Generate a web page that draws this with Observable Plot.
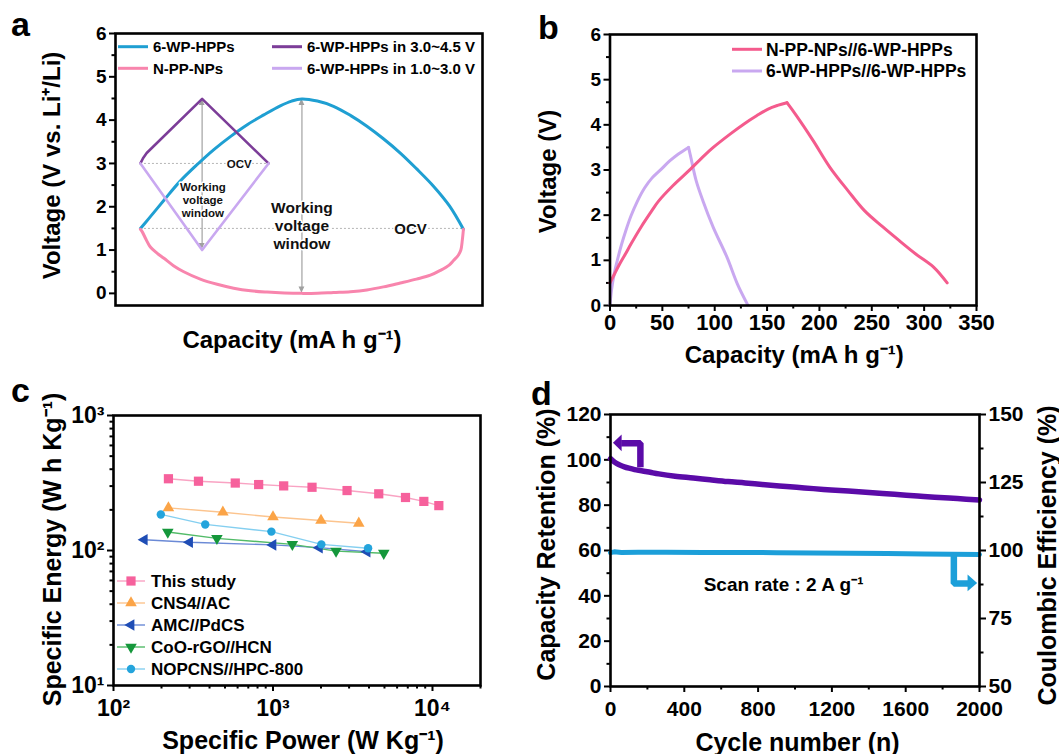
<!DOCTYPE html>
<html>
<head>
<meta charset="utf-8">
<script src="https://cdn.jsdelivr.net/npm/d3@7"></script>
<script src="https://cdn.jsdelivr.net/npm/@observablehq/plot@0.6"></script>
<style>
  html, body { margin: 0; padding: 0; background: #fff; }
  #root { position: relative; width: 1059px; height: 754px; overflow: hidden; background: #fff; }
  #root svg { position: absolute; }
</style>
</head>
<body>
<div id="root"></div>
<script>
const FONT = "Arial, 'Liberation Sans', Helvetica, sans-serif";

// ---------- Panel a data (arbitrary capacity units) ----------
const aCapBlue = [6.8, 9, 13.2, 17.5, 22.2, 26.8, 31.3, 36, 40.4, 44.9, 48, 50.8, 55, 59.4, 64, 68.5, 73, 77.6, 82, 86.7, 91, 94.8];
const aVBlue   = [1.50, 1.72, 2.15, 2.58, 2.97, 3.32, 3.62, 3.90, 4.12, 4.33, 4.44, 4.49, 4.44, 4.32, 4.11, 3.86, 3.57, 3.24, 2.88, 2.47, 2.02, 1.48];
const aCapPink = [6.8, 7.3, 8.3, 9.5, 11.3, 13.2, 15.8, 18.6, 23.1, 27.7, 32.2, 36.8, 41.3, 46, 50.8, 55, 59.4, 64, 68.5, 73, 77.6, 82, 85.8, 88.5, 91, 92.1, 93.4, 94.1, 94.5, 94.8];
const aVPink   = [1.48, 1.42, 1.25, 1.07, 0.93, 0.81, 0.64, 0.50, 0.33, 0.21, 0.12, 0.06, 0.03, 0.01, 0.0, 0.0, 0.02, 0.04, 0.08, 0.15, 0.24, 0.33, 0.42, 0.53, 0.66, 0.76, 0.88, 1.0, 1.23, 1.48];
const aCapHigh = [6.8, 7.5, 8.5, 23.6, 41.7];
const aVHigh   = [3.0, 3.12, 3.24, 4.49, 3.0];
const aCapLow  = [6.8, 23.6, 41.7];
const aVLow    = [3.0, 1.0, 3.0];
const aOcvV    = [3.0, 1.5];
const aOcvX1   = [6.8, 6.8];
const aOcvX2   = [41.7, 94.8];
const aWinX    = [23.6, 50.8];
const aWinTop  = [4.49, 4.49];
const aWinBot  = [1.0, 0.0];
const aNoteText = ["OCV", "Working\nvoltage\nwindow", "OCV", "Working\nvoltage\nwindow"];
const aNoteX    = [33.7, 23.8, 80.4, 50.8];
const aNoteY    = [3.0, 2.16, 1.5, 1.57];
const aNoteSize = [11.5, 11.5, 15, 15.5];
const aLegend   = ["6-WP-HPPs", "N-PP-NPs", "6-WP-HPPs in 3.0~4.5 V", "6-WP-HPPs in 1.0~3.0 V"];
const aColors   = ["#1f9fd2", "#f885ad", "#7c3d98", "#c9a8f0"];

// ---------- Panel b data (charge and discharge branches) ----------
const bCapPinkC = [0, 5, 10, 15, 20, 30, 40, 46, 60, 75.6, 90, 98.6, 115, 128, 140, 151, 160, 169];
const bVPinkC   = [0.5, 0.73, 0.95, 1.15, 1.36, 1.75, 2.1, 2.3, 2.65, 2.99, 3.32, 3.5, 3.8, 4.02, 4.2, 4.35, 4.43, 4.49];
const bCapPinkD = [169, 177.5, 194, 210, 227, 243, 260, 276, 292, 309, 322];
const bVPinkD   = [4.49, 4.22, 3.65, 3.06, 2.55, 2.10, 1.75, 1.44, 1.14, 0.85, 0.5];
const bCapPurpC = [0, 1.5, 4, 7, 11, 15, 20, 26, 33, 40, 49, 57, 65, 75];
const bVPurpC   = [0.02, 0.35, 0.7, 1.0, 1.35, 1.65, 1.98, 2.3, 2.6, 2.82, 3.02, 3.2, 3.35, 3.5];
const bCapPurpD = [75, 77.2, 82.2, 88.7, 98.6, 111.7, 121.6, 131.4];
const bVPurpD   = [3.5, 3.28, 2.77, 2.32, 1.73, 1.07, 0.48, 0.02];
const bLegend  = ["N-PP-NPs//6-WP-HPPs", "6-WP-HPPs//6-WP-HPPs"];
const bColors  = ["#f45b8d", "#c9a8f0"];

// ---------- Panel c data ----------
const cNames = ["This study", "CNS4//AC", "AMC//PdCS", "CoO-rGO//HCN", "NOPCNS//HPC-800"];
const cPower = [
  [221, 341, 580, 813, 1167, 1757, 2913, 4603, 6773, 8826, 10960],
  [221, 485, 1000, 2000, 3450],
  [156, 300, 1000, 1954, 3890],
  [219, 445, 1322, 2485, 4950],
  [198, 376, 977, 2010, 3948]
];
const cEnergy = [
  [340, 326, 316, 308, 301, 294, 278, 263, 247, 231, 215],
  [207, 192, 177, 167, 159],
  [120, 115, 110, 105, 98],
  [137, 123, 111, 99, 95.5],
  [185, 156, 138, 111, 104]
];
const cMarkerColors = ["#f6619c", "#fba447", "#1f4db5", "#15973b", "#24a4dc"];
const cLineColors   = ["#f9a3c3", "#fcc48e", "#6b8ad6", "#52bb68", "#84cff0"];
const cSymbols      = ["square", "triangle", "triangle", "triangle", "circle"];
const cRotate       = [0, 0, -90, 180, 0];
const cTicks = [1, 2, 3, 4];

// ---------- Panel d data ----------
const dCycleRet = [0, 10, 20, 35, 50, 75, 100, 130, 168, 215, 262, 350, 449, 540, 636, 730, 822, 915, 1009, 1100, 1196, 1290, 1383, 1475, 1570, 1665, 1757, 1880, 2000];
const dRet      = [100.5, 99.8, 99.1, 98.3, 97.7, 96.9, 96.3, 95.7, 95.2, 94.5, 93.8, 92.8, 92.0, 91.2, 90.4, 89.8, 89.1, 88.5, 87.9, 87.3, 86.7, 86.2, 85.7, 85.1, 84.6, 84.0, 83.5, 82.9, 82.3];
const dCycleCE  = [0, 20, 60, 150, 300, 500, 700, 900, 1100, 1300, 1500, 1700, 1850, 2000];
const dCE       = [99.2, 99.5, 99.3, 99.4, 99.4, 99.3, 99.3, 99.2, 99.1, 99.0, 98.9, 98.7, 98.6, 98.5];
const dRightTicks = [50, 75, 100, 125, 150];
const dRetArrowX = [162, 162, 58];
const dRetArrowY = [96.7, 107.3, 107.3];
const dCEArrowX  = [1861, 1861, 1945];
const dCEArrowY  = [99.0, 87.9, 87.9];   // in Coulombic-efficiency units
const dNote = "Scan rate : 2 A g\u207B\u00B9";
const dColors = ["#5b0ba8", "#1c9fd9"];

// ---------- helpers ----------
const root = document.getElementById("root");
function place(svg, left, top) {
  svg.style.left = left + "px";
  svg.style.top = top + "px";
  root.append(svg);
}
const zip = (xs, ys) => xs.map((x, i) => ({x, y: ys[i]}));
const baseStyle = {fontFamily: FONT, fontWeight: "bold", color: "black", background: "transparent", overflow: "visible"};
const T = {textAnchor: "middle", lineAnchor: "middle", text: d => d};
const intFmt = d => String(Math.round(d));

// ---------- Panel a ----------
const aHeads = aWinX.flatMap((x, i) => [
  {z: 2 * i, y: aWinTop[i], x1: x, x2: x}, {z: 2 * i, y: aWinTop[i] - 0.15, x1: x - 0.8, x2: x + 0.8},
  {z: 2 * i + 1, y: aWinBot[i], x1: x, x2: x}, {z: 2 * i + 1, y: aWinBot[i] + 0.15, x1: x - 0.8, x2: x + 0.8}
]);
const aNotes = aNoteText.map((t, i) => ({t, x: aNoteX[i], y: aNoteY[i], s: aNoteSize[i]}));
const plotA = Plot.plot({
  width: 520, height: 370,
  marginLeft: 115, marginRight: 38, marginTop: 33, marginBottom: 65,
  x: {domain: [0, 100], axis: null},
  y: {domain: [-0.28, 6]},
  style: baseStyle,
  marks: [
    Plot.axisY({ticks: d3.range(0, 7), tickFormat: intFmt, tickSize: 6, tickPadding: 3, fontSize: 19, strokeWidth: 2, label: null}),
    Plot.axisY({ticks: d3.range(0.5, 6, 1), tickSize: 3.5, tickFormat: () => "", strokeWidth: 2, label: null}),
    Plot.ruleY(aOcvV, {y: d => d, x1: (d, i) => aOcvX1[i], x2: (d, i) => aOcvX2[i], stroke: "#b5b5b5", strokeWidth: 1, strokeDasharray: "2,2"}),
    Plot.ruleX(aWinX, {x: d => d, y1: (d, i) => aWinTop[i] - 0.1, y2: (d, i) => aWinBot[i] + 0.1, stroke: "#a9a9a9", strokeWidth: 1.3}),
    Plot.areaX(aHeads, {y: "y", x1: "x1", x2: "x2", z: "z", fill: "#a0a0a0"}),
    Plot.line(zip(aCapBlue, aVBlue), {x: "x", y: "y", stroke: aColors[0], strokeWidth: 3, curve: "catmull-rom"}),
    Plot.line(zip(aCapPink, aVPink), {x: "x", y: "y", stroke: aColors[1], strokeWidth: 3, curve: "catmull-rom"}),
    Plot.line(zip(aCapHigh, aVHigh), {x: "x", y: "y", stroke: aColors[2], strokeWidth: 2.6}),
    Plot.line(zip(aCapLow, aVLow), {x: "x", y: "y", stroke: aColors[3], strokeWidth: 2.6}),
    Plot.text(aNotes, {x: "x", y: "y", text: "t", fontSize: "s", fill: "#111", lineHeight: 1.15, stroke: "white", strokeWidth: 3, paintOrder: "stroke"}),
    Plot.frame({stroke: "black", strokeWidth: 2.6}),
    Plot.text(["Voltage (V vs. Li\u207A/Li)"], {...T, frameAnchor: "left", dx: -63, dy: -4, rotate: -90, fontSize: 24}),
    Plot.text(["Capacity (mA h g\u207B\u00B9)"], {...T, frameAnchor: "bottom", dx: -7, dy: 35, fontSize: 24})
  ]
});
place(plotA, 0, 0);

// ---------- Panel b ----------
const plotB = Plot.plot({
  width: 539, height: 370,
  marginLeft: 89.5, marginRight: 83, marginTop: 34, marginBottom: 65,
  x: {domain: [0, 350]},
  y: {domain: [0, 6]},
  style: baseStyle,
  marks: [
    Plot.axisY({ticks: d3.range(0, 7), tickFormat: intFmt, tickSize: 6, tickPadding: 3, fontSize: 19, strokeWidth: 2, label: null}),
    Plot.axisY({ticks: d3.range(0.5, 6, 1), tickSize: 3.5, tickFormat: () => "", strokeWidth: 2, label: null}),
    Plot.axisX({ticks: d3.range(0, 351, 50), tickFormat: intFmt, tickSize: 6, tickPadding: 3, fontSize: 22, strokeWidth: 2, label: null}),
    Plot.axisX({ticks: d3.range(25, 350, 50), tickSize: 3.5, tickFormat: () => "", strokeWidth: 2, label: null}),
    Plot.line(zip(bCapPurpC, bVPurpC), {x: "x", y: "y", stroke: bColors[1], strokeWidth: 3, curve: "catmull-rom"}),
    Plot.line(zip(bCapPurpD, bVPurpD), {x: "x", y: "y", stroke: bColors[1], strokeWidth: 3, curve: "catmull-rom"}),
    Plot.line(zip(bCapPinkC, bVPinkC), {x: "x", y: "y", stroke: bColors[0], strokeWidth: 3, curve: "catmull-rom"}),
    Plot.line(zip(bCapPinkD, bVPinkD), {x: "x", y: "y", stroke: bColors[0], strokeWidth: 3, curve: "catmull-rom"}),
    Plot.frame({stroke: "black", strokeWidth: 2.6}),
    Plot.text(["Voltage (V)"], {...T, frameAnchor: "left", dx: -61.5, dy: 1.5, rotate: -90, fontSize: 24}),
    Plot.text(["Capacity (mA h g\u207B\u00B9)"], {...T, frameAnchor: "bottom", dx: 1, dy: 50, fontSize: 24})
  ]
});
place(plotB, 520, 0);

// ---------- Panel c ----------
const SUP = {1: "\u00B9", 2: "\u00B2", 3: "\u00B3", 4: "\u2074"};
const powFmt = d => "10" + SUP[Math.round(Math.log10(d))];
const minorLog = (lo, hi) => d3.range(lo, hi).flatMap(e => d3.range(2, 10).map(m => m * 10 ** e));
const cSeries = cNames.flatMap((name, k) => cPower[k].map((p, i) => ({name, k, p, e: cEnergy[k][i]})));
const plotC = Plot.plot({
  width: 520, height: 384,
  marginLeft: 113, marginRight: 40, marginTop: 45, marginBottom: 69,
  x: {type: "log", domain: [100, 20000]},
  y: {type: "log", domain: [10, 1000]},
  style: baseStyle,
  marks: [
    Plot.axisY({ticks: cTicks.slice(0, 3).map(e => 10 ** e), tickFormat: powFmt, tickSize: 6, tickPadding: 3, fontSize: 23, strokeWidth: 2, label: null}),
    Plot.axisY({ticks: minorLog(1, 3), tickSize: 3.5, tickFormat: () => "", strokeWidth: 2, label: null}),
    Plot.axisX({ticks: cTicks.slice(1, 4).map(e => 10 ** e), tickFormat: powFmt, tickSize: 6, tickPadding: 8, fontSize: 23, strokeWidth: 2, label: null}),
    Plot.axisX({ticks: minorLog(2, 4).concat([20000]), tickSize: 3.5, tickFormat: () => "", strokeWidth: 2, label: null}),
    ...cNames.map((name, k) => Plot.line(cSeries.filter(d => d.k === k), {x: "p", y: "e", stroke: cLineColors[k], strokeWidth: 1.4})),
    ...cNames.map((name, k) => Plot.dot(cSeries.filter(d => d.k === k), {
      x: "p", y: "e", symbol: cSymbols[k], rotate: cRotate[k], fill: cMarkerColors[k], stroke: "none",
      r: cSymbols[k] === "square" ? 5.2 : cSymbols[k] === "circle" ? 4.2 : 4.3
    })),
    Plot.frame({stroke: "black", strokeWidth: 2.6}),
    Plot.text(["Specific Energy (W h Kg\u207B\u00B9)"], {...T, frameAnchor: "left", dx: -61, dy: -1, rotate: -90, fontSize: 25}),
    Plot.text(["Specific Power (W Kg\u207B\u00B9)"], {...T, frameAnchor: "bottom", dx: 6, dy: 55, fontSize: 25})
  ]
});
place(plotC, 0, 370);

// ---------- Panel d ----------
const ceToLeft = v => (v - 50) * 1.2;
const retHead = [{x: 16, y1: 107.3, y2: 107.3}, {x: 63, y1: 103.6, y2: 111.0}];
const ceHead = [{x: 1938, y1: ceToLeft(87.9) - 3.7, y2: ceToLeft(87.9) + 3.7}, {x: 1990, y1: ceToLeft(87.9), y2: ceToLeft(87.9)}];
const plotD = Plot.plot({
  width: 539, height: 384,
  marginLeft: 90, marginRight: 80, marginTop: 44, marginBottom: 68,
  x: {domain: [0, 2000]},
  y: {domain: [0, 120]},
  style: baseStyle,
  marks: [
    Plot.axisY({ticks: d3.range(0, 121, 20), tickFormat: intFmt, tickSize: 6, tickPadding: 3, fontSize: 21, strokeWidth: 2, label: null}),
    Plot.axisY({ticks: d3.range(10, 120, 20), tickSize: 3.5, tickFormat: () => "", strokeWidth: 2, label: null}),
    Plot.axisY({anchor: "right", ticks: dRightTicks.map(ceToLeft), tickFormat: v => intFmt(v / 1.2 + 50), tickSize: 6, tickPadding: 3, fontSize: 21, strokeWidth: 2, label: null}),
    Plot.axisY({anchor: "right", ticks: [62.5, 87.5, 112.5, 137.5].map(ceToLeft), tickSize: 3.5, tickFormat: () => "", strokeWidth: 2, label: null}),
    Plot.axisX({ticks: d3.range(0, 2001, 400), tickFormat: intFmt, tickSize: 6, tickPadding: 9, fontSize: 21, strokeWidth: 2, label: null}),
    Plot.axisX({ticks: d3.range(200, 2000, 400), tickSize: 3.5, tickFormat: () => "", strokeWidth: 2, label: null}),
    Plot.line(zip(dCycleCE, dCE.map(ceToLeft)), {x: "x", y: "y", stroke: dColors[1], strokeWidth: 5}),
    Plot.line(zip(dCycleRet, dRet), {x: "x", y: "y", stroke: dColors[0], strokeWidth: 5.5, curve: "catmull-rom"}),
    Plot.line(zip(dRetArrowX, dRetArrowY), {x: "x", y: "y", stroke: dColors[0], strokeWidth: 6.5, strokeLinejoin: "miter", strokeLinecap: "butt"}),
    Plot.areaY(retHead, {x: "x", y1: "y1", y2: "y2", fill: dColors[0]}),
    Plot.line(zip(dCEArrowX, dCEArrowY.map(ceToLeft)), {x: "x", y: "y", stroke: dColors[1], strokeWidth: 6.5, strokeLinejoin: "miter", strokeLinecap: "butt"}),
    Plot.areaY(ceHead, {x: "x", y1: "y1", y2: "y2", fill: dColors[1]}),
    Plot.text([dNote], {text: d => d, x: 938, y: 45, fontSize: 19}),
    Plot.frame({stroke: "black", strokeWidth: 2.6}),
    Plot.text(["Capacity Retention (%)"], {...T, frameAnchor: "left", dx: -64, dy: -6, rotate: -90, fontSize: 25}),
    Plot.text(["Coulombic Efficiency (%)"], {...T, frameAnchor: "right", dx: 68, dy: 5, rotate: -90, fontSize: 25}),
    Plot.text(["Cycle number (n)"], {...T, frameAnchor: "bottom", dx: 2.5, dy: 56, fontSize: 25})
  ]
});
place(plotD, 520, 370);

// ---------- overlay: panel letters and legends ----------
const ov = d3.create("svg")
  .attr("width", 1059).attr("height", 754)
  .style("left", "0px").style("top", "0px")
  .style("font-family", FONT).style("font-weight", "bold");
const letters = [["a", 11, 36], ["b", 538, 39], ["c", 11, 402], ["d", 531, 405]];
ov.selectAll("text.letter").data(letters).join("text")
  .attr("x", d => d[1]).attr("y", d => d[2]).attr("font-size", 34).text(d => d[0]);

// legend a
const aLegPos = [[118, 46.7], [118, 68.3], [272, 46.7], [272, 68.3]];
aLegend.forEach((name, i) => {
  const [x, y] = aLegPos[i];
  ov.append("line").attr("x1", x).attr("x2", x + 30).attr("y1", y).attr("y2", y).attr("stroke", aColors[i]).attr("stroke-width", 3);
  ov.append("text").attr("x", x + 35).attr("y", y).attr("dy", "0.36em").attr("font-size", 15).text(name);
});
// legend b
bLegend.forEach((name, i) => {
  const x = 732, y = 49.3 + i * 21.7;
  ov.append("line").attr("x1", x).attr("x2", x + 30).attr("y1", y).attr("y2", y).attr("stroke", bColors[i]).attr("stroke-width", 3);
  ov.append("text").attr("x", x + 34).attr("y", y).attr("dy", "0.36em").attr("font-size", 17.5).text(name);
});
// legend c
const symMap = {square: d3.symbolSquare, triangle: d3.symbolTriangle, circle: d3.symbolCircle};
cNames.forEach((name, k) => {
  const x = 117, y = 581 + k * 22;
  const r = cSymbols[k] === "square" ? 5.2 : cSymbols[k] === "circle" ? 4.2 : 4.3;
  ov.append("line").attr("x1", x).attr("x2", x + 28).attr("y1", y).attr("y2", y).attr("stroke", cLineColors[k]).attr("stroke-width", 1.4);
  ov.append("path").attr("d", d3.symbol(symMap[cSymbols[k]], Math.PI * r * r)())
    .attr("transform", `translate(${x + 14},${y}) rotate(${cRotate[k]})`).attr("fill", cMarkerColors[k]);
  ov.append("text").attr("x", x + 34).attr("y", y).attr("dy", "0.36em").attr("font-size", 17).text(name);
});
root.append(ov.node());
</script>
</body>
</html>
